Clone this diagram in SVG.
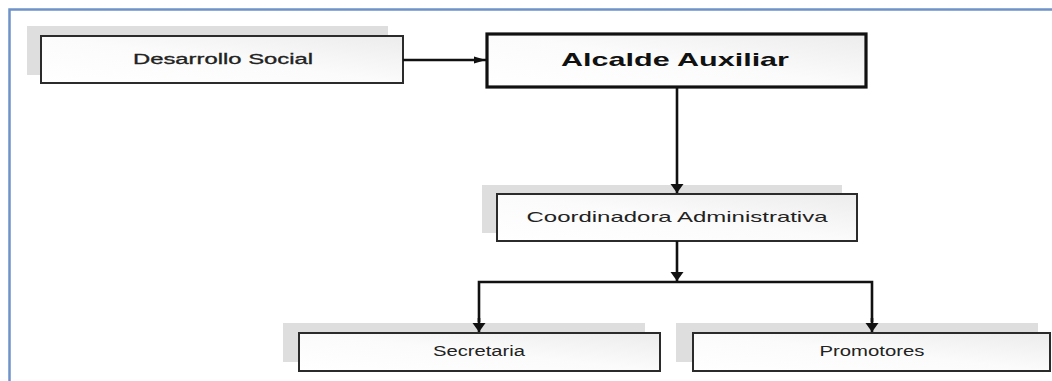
<svg xmlns="http://www.w3.org/2000/svg" width="1052" height="381" viewBox="0 0 1052 381">
  <defs>
    <linearGradient id="boxfill" x1="0" y1="1" x2="1" y2="0">
      <stop offset="0" stop-color="#ffffff"/>
      <stop offset="0.5" stop-color="#fbfbfb"/>
      <stop offset="1" stop-color="#ececec"/>
    </linearGradient>
    <marker id="arrowH" markerWidth="12" markerHeight="8" refX="12" refY="4" orient="auto" markerUnits="userSpaceOnUse">
      <path d="M0,0.5 L12,4 L0,7.5 Z" fill="#111"/>
    </marker>
    <marker id="arrowV" markerWidth="9" markerHeight="14" refX="9" refY="7" orient="auto" markerUnits="userSpaceOnUse">
      <path d="M0,0.5 L9,7 L0,13.5 Z" fill="#111"/>
    </marker>
  </defs>
  <style>
    .frame { fill: none; stroke: #6f92c8; stroke-width: 2.5; }
    .shadow { fill: #dedede; }
    .box { fill: url(#boxfill); stroke: #2b2b2b; stroke-width: 2; }
    .boxmain { fill: url(#boxfill); stroke: #111; stroke-width: 3.2; }
    .lbl { font-family: "Liberation Sans", Arial, sans-serif; fill: #222; text-anchor: middle; }
    .lblmain { font-family: "Liberation Sans", Arial, sans-serif; fill: #111; font-weight: bold; text-anchor: middle; }
    .conn { fill: none; stroke: #111; stroke-width: 2.6; }
  </style>
  <rect width="1052" height="381" fill="#ffffff"/>
  <path class="frame" d="M9.5,385 L9.5,9.5 L1060,9.5"/>

  <g id="desarrollo-social">
    <rect class="shadow" x="27" y="26" width="361" height="49"/>
    <rect class="box" x="41" y="36" width="362" height="47"/>
    <text class="lbl" x="223" y="63.5" font-size="14" textLength="180" lengthAdjust="spacingAndGlyphs" stroke="#222" stroke-width="0.3">Desarrollo Social</text>
  </g>

  <g id="alcalde-auxiliar">
    <rect class="boxmain" x="487" y="34" width="379" height="53"/>
    <text class="lblmain" x="675" y="65.5" font-size="19" textLength="228" lengthAdjust="spacingAndGlyphs">Alcalde Auxiliar</text>
  </g>

  <g id="coordinadora-administrativa">
    <rect class="shadow" x="482" y="185" width="360" height="48"/>
    <rect class="box" x="497" y="194" width="360" height="47"/>
    <text class="lbl" x="677" y="221.5" font-size="15" textLength="301" lengthAdjust="spacingAndGlyphs">Coordinadora Administrativa</text>
  </g>

  <g id="secretaria">
    <rect class="shadow" x="283" y="323" width="362" height="39"/>
    <rect class="box" x="299" y="333" width="361" height="38"/>
    <text class="lbl" x="479" y="355.5" font-size="14" textLength="92" lengthAdjust="spacingAndGlyphs">Secretaria</text>
  </g>

  <g id="promotores">
    <rect class="shadow" x="676" y="323" width="362" height="39"/>
    <rect class="box" x="693" y="333" width="357" height="38"/>
    <text class="lbl" x="872" y="355.5" font-size="14" textLength="105" lengthAdjust="spacingAndGlyphs">Promotores</text>
  </g>

  <g id="connectors">
    <path class="conn" d="M403,60 L486,60" marker-end="url(#arrowH)"/>
    <path class="conn" d="M677,88 L677,193" marker-end="url(#arrowV)"/>
    <path class="conn" d="M677,241 L677,281" marker-end="url(#arrowV)"/>
    <path class="conn" d="M479,322 L479,282 L872,282 L872,322"/>
    <path class="conn" d="M479,318 L479,332" marker-end="url(#arrowV)"/>
    <path class="conn" d="M872,318 L872,332" marker-end="url(#arrowV)"/>
  </g>
</svg>
